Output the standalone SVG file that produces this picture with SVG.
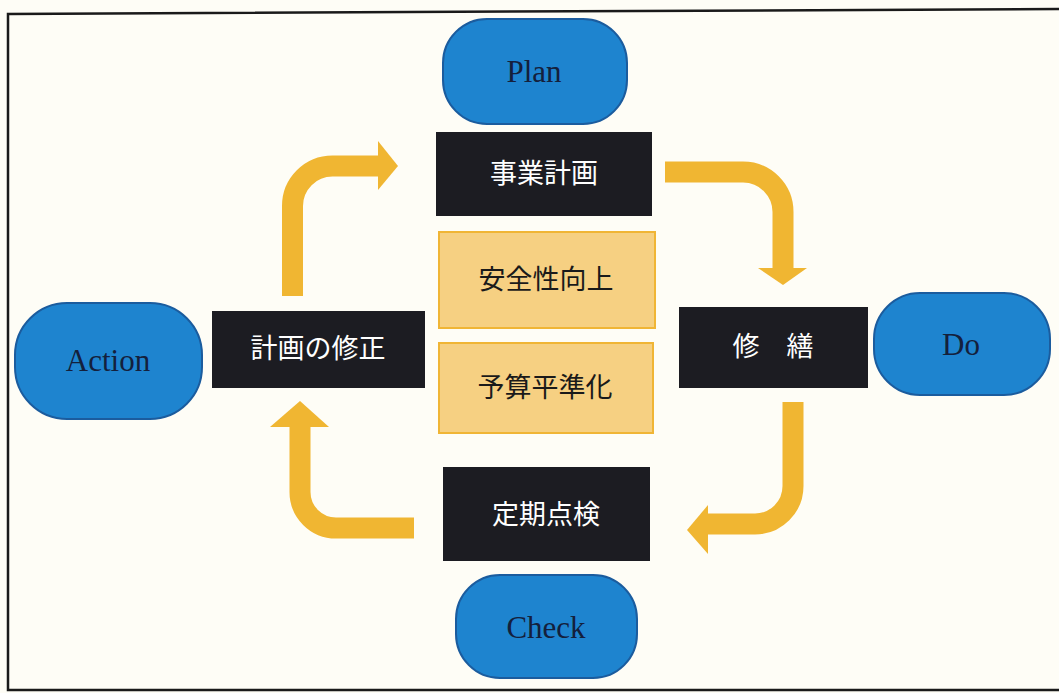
<svg xmlns="http://www.w3.org/2000/svg" width="1059" height="693" viewBox="0 0 1059 693">
<defs>
<style>
.pdca{fill:#1E84CF;stroke:#1B5C9E;stroke-width:2}
.pdcat{font-family:"Liberation Serif","DejaVu Serif",serif;font-size:31px;fill:#14203C;text-anchor:middle}
.blk{fill:#1C1C22}
.blkt{font-family:"Liberation Serif","Noto Sans CJK JP",serif;font-size:27px;fill:#FFFFFF;text-anchor:middle;dominant-baseline:central}
.tan{fill:#F6D082;stroke:#F0B535;stroke-width:2}
.tant{font-family:"Liberation Serif","Noto Sans CJK JP",serif;font-size:27px;fill:#1A1A1A;text-anchor:middle;dominant-baseline:central}
.shaft{fill:none;stroke:#F0B632;stroke-width:21}
.head{fill:#F0B632}
</style>
</defs>
<rect x="0" y="0" width="1059" height="693" fill="#FEFDF6"/>
<path d="M1059 9 L8 14 L8 690 L1059 690" fill="none" stroke="#1A1A1A" stroke-width="2.5"/>

<g id="connectors">
<g id="arrow-action-plan">
<path class="shaft" d="M292.5 296 V206 A40 40 0 0 1 332.5 166 H380"/>
<polygon class="head" points="378,141 398,166 378,190"/>
</g>
<g id="arrow-plan-do">
<path class="shaft" d="M665 172 H743 A40 40 0 0 1 783 212 V270"/>
<polygon class="head" points="758,268 807,268 783,285"/>
</g>
<g id="arrow-do-check">
<path class="shaft" d="M793 402 V486 A38 38 0 0 1 755 524 H706"/>
<polygon class="head" points="708,505 687,530 708,554"/>
</g>
<g id="arrow-check-action">
<path class="shaft" d="M414 528 H336 A36 36 0 0 1 300 492 V425"/>
<polygon class="head" points="270,427 300,401 329,427"/>
</g>
</g>

<g id="plan">
<rect class="pdca" x="443" y="19" width="184" height="105" rx="44"/>
<text class="pdcat" x="534" y="82">Plan</text>
</g>
<g id="do">
<rect class="pdca" x="874" y="293" width="176" height="102" rx="46"/>
<text class="pdcat" x="961" y="355">Do</text>
</g>
<g id="check">
<rect class="pdca" x="456" y="575" width="181" height="103" rx="44"/>
<text class="pdcat" x="546" y="638">Check</text>
</g>
<g id="action">
<rect class="pdca" x="15" y="303" width="187" height="116" rx="52"/>
<text class="pdcat" x="108" y="371">Action</text>
</g>

<g id="jigyou-keikaku">
<rect class="blk" x="436" y="132" width="216" height="84"/>
<text class="blkt" x="544" y="174">事業計画</text>
</g>
<g id="shuzen">
<rect class="blk" x="679" y="307" width="189" height="81"/>
<text class="blkt" x="773" y="347">修　繕</text>
</g>
<g id="teiki-tenken">
<rect class="blk" x="443" y="467" width="207" height="94"/>
<text class="blkt" x="546" y="515">定期点検</text>
</g>
<g id="keikaku-shusei">
<rect class="blk" x="212" y="311" width="213" height="77"/>
<text class="blkt" x="318" y="349">計画の修正</text>
</g>

<g id="anzensei">
<rect class="tan" x="439" y="232" width="216" height="96"/>
<text class="tant" x="546" y="280">安全性向上</text>
</g>
<g id="yosan">
<rect class="tan" x="439" y="343" width="214" height="90"/>
<text class="tant" x="545" y="388">予算平準化</text>
</g>
</svg>
